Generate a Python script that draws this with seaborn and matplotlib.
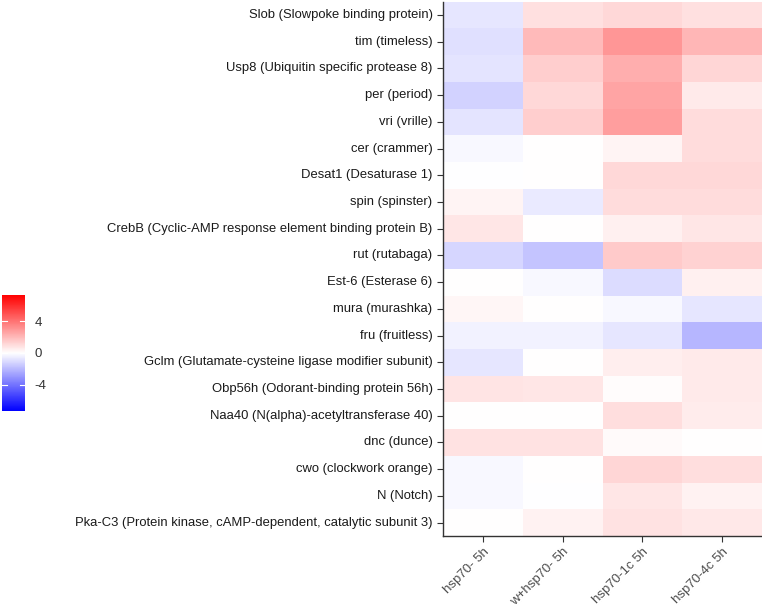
import numpy as np
import pandas as pd
import matplotlib
matplotlib.use("Agg")
import matplotlib.pyplot as plt
from matplotlib.colors import LinearSegmentedColormap
import seaborn as sns

genes = [
    "Slob (Slowpoke binding protein)",
    "tim (timeless)",
    "Usp8 (Ubiquitin specific protease 8)",
    "per (period)",
    "vri (vrille)",
    "cer (crammer)",
    "Desat1 (Desaturase 1)",
    "spin (spinster)",
    "CrebB (Cyclic-AMP response element binding protein B)",
    "rut (rutabaga)",
    "Est-6 (Esterase 6)",
    "mura (murashka)",
    "fru (fruitless)",
    "Gclm (Glutamate-cysteine ligase modifier subunit)",
    "Obp56h (Odorant-binding protein 56h)",
    "Naa40 (N(alpha)-acetyltransferase 40)",
    "dnc (dunce)",
    "cwo (clockwork orange)",
    "N (Notch)",
    "Pka-C3 (Protein kinase, cAMP-dependent, catalytic subunit 3)",
]
samples = ["hsp70- 5h", "w+hsp70- 5h", "hsp70-1c 5h", "hsp70-4c 5h"]

hsp70_5h = [-0.7, -0.9, -0.8, -1.3, -0.8, -0.2, -0.05, 0.3, 0.7, -1.2,
            0.0, 0.25, -0.4, -0.7, 0.8, 0.0, 0.85, -0.2, -0.2, 0.0]
w_hsp70_5h = [0.9, 2.0, 1.4, 1.1, 1.4, 0.0, 0.0, -0.6, 0.0, -1.7,
              -0.2, 0.0, -0.4, 0.0, 0.7, 0.0, 0.85, 0.0, -0.05, 0.4]
hsp70_1c_5h = [1.1, 3.0, 2.3, 2.6, 2.8, 0.3, 1.1, 1.0, 0.45, 1.5,
               -1.0, -0.2, -0.7, 0.5, 0.08, 0.95, 0.15, 1.2, 0.7, 0.85]
hsp70_4c_5h = [0.9, 2.1, 1.2, 0.6, 1.0, 1.0, 1.1, 1.0, 0.7, 1.3,
               0.45, -0.7, -2.1, 0.6, 0.6, 0.55, 0.0, 0.95, 0.35, 0.65]

df = pd.DataFrame({
    samples[0]: hsp70_5h,
    samples[1]: w_hsp70_5h,
    samples[2]: hsp70_1c_5h,
    samples[3]: hsp70_4c_5h,
}, index=genes)

lim = 7.35
cmap = LinearSegmentedColormap.from_list("bwr2", ["#0000FF", "#FFFFFF", "#FF0000"])

plt.rcParams['font.family'] = ['Liberation Sans', 'DejaVu Sans']
fig = plt.figure(figsize=(7.62, 6.07), dpi=100)
ax = fig.add_axes([443/762, 1 - 536/607, 1 - 443/762, (536 - 1.7)/607])
cax = fig.add_axes([2/762, 1 - 411/607, 23/762, 116/607])

sns.heatmap(df, ax=ax, cmap=cmap, vmin=-lim, vmax=lim, cbar_ax=cax,
            cbar_kws={"ticks": [-4, 0, 4]})

ax.set_xticklabels(samples, rotation=45, ha="right", rotation_mode="anchor",
                   fontsize=9.5, color="#4d4d4d")
ax.set_yticklabels(genes, rotation=0, fontsize=9.4, color="#1a1a1a")
ax.tick_params(axis="both", length=4, width=0.8, color="#333333")
ax.tick_params(axis="x", pad=3)
for side in ["left", "bottom"]:
    ax.spines[side].set_visible(True)
    ax.spines[side].set_color("#333333")
    ax.spines[side].set_linewidth(1.0)

cax.tick_params(length=0, labelsize=9.5, labelcolor="#333333", pad=7)
cax.set_yticklabels(["-4", "0", "4"])
for t in [-4, 0, 4]:
    cax.plot([0, 0.2], [t, t], color="white", lw=0.8, transform=cax.get_yaxis_transform())
    cax.plot([0.8, 1.0], [t, t], color="white", lw=0.8, transform=cax.get_yaxis_transform())
for s in cax.spines.values():
    s.set_visible(False)

fig.savefig("out.png", dpi=100)
